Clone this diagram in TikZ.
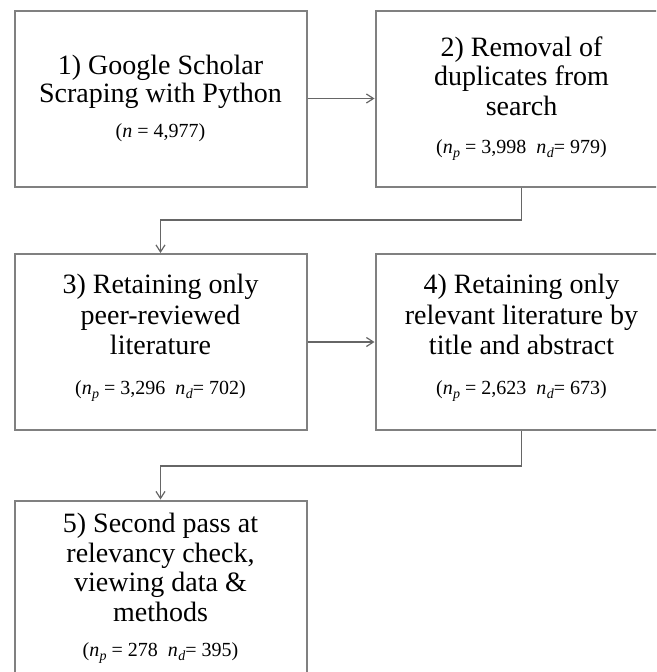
\documentclass[tikz,border=0pt]{standalone}
\usepackage{fontspec}
\setmainfont{Liberation Serif}
\usetikzlibrary{arrows.meta}
\newcommand{\nsub}[1]{\textit{n}\kern0.3pt\raisebox{-4pt}{\fontsize{14}{14}\selectfont\textit{#1}}}
\newcommand{\cnt}{\fontsize{20}{22}\selectfont}
\newcommand{\lowstrut}{\rule[-14.5pt]{0pt}{14.5pt}}
\definecolor{boxgray}{HTML}{808080}
\definecolor{linegray}{HTML}{666666}
\tikzset{
  stepbox/.style={draw=boxgray, line width=2pt, minimum width=292pt, minimum height=176pt,
    inner sep=0pt, align=center, font=\fontsize{28}{29.5}\selectfont},
  flow/.style={draw=linegray, line width=1.2pt, -{Straight Barb[length=7pt,width=9pt,line width=1.2pt]}}
}
\begin{document}
\begin{tikzpicture}[x=1pt,y=-1pt]
\useasboundingbox (0,0) rectangle (656,672);
\clip (0,0) rectangle (656,672);
\fill[white] (0,0) rectangle (656,672);
\node[stepbox, font=\fontsize{28}{28.5}\selectfont] (b1) at (160.5,98.5) {1) Google Scholar\\Scraping with Python\\[6.5pt]{\cnt(\textit{n} = 4,977)}};
\node[stepbox] (b2) at (521.5,98.5) {2) Removal of\\duplicates from\\search\\[8.5pt]{\cnt(\nsub{p} = 3,998\ \ \nsub{d}= 979)}};
\node[stepbox, font=\fontsize{28}{30.5}\selectfont] (b3) at (160.5,342) {3) Retaining only\\peer-reviewed\\literature\\[9.5pt]{\cnt(\nsub{p} = 3,296\ \ \nsub{d}= 702)\lowstrut}};
\node[stepbox, font=\fontsize{28}{30.5}\selectfont] (b4) at (521.5,342) {4) Retaining only\\relevant literature by\\title and abstract\\[9.5pt]{\cnt(\nsub{p} = 2,623\ \ \nsub{d}= 673)\lowstrut}};
\node[stepbox] (b5) at (160.5,588.5) {5) Second pass at\\relevancy check,\\viewing data \&\\methods\\[5.5pt]{\cnt(\nsub{p} = 278\ \ \nsub{d}= 395)}};
\coordinate (j1) at (521.5,220);
\coordinate (j2) at (521.5,466);
\draw[flow] (b1.east) -- (b2.west);
\draw[flow] (b3.east) -- (b4.west);
\draw[flow] (b2.south) -- (j1) -| (b3.north);
\draw[flow] (b4.south) -- (j2) -| (b5.north);
\end{tikzpicture}
\end{document}
